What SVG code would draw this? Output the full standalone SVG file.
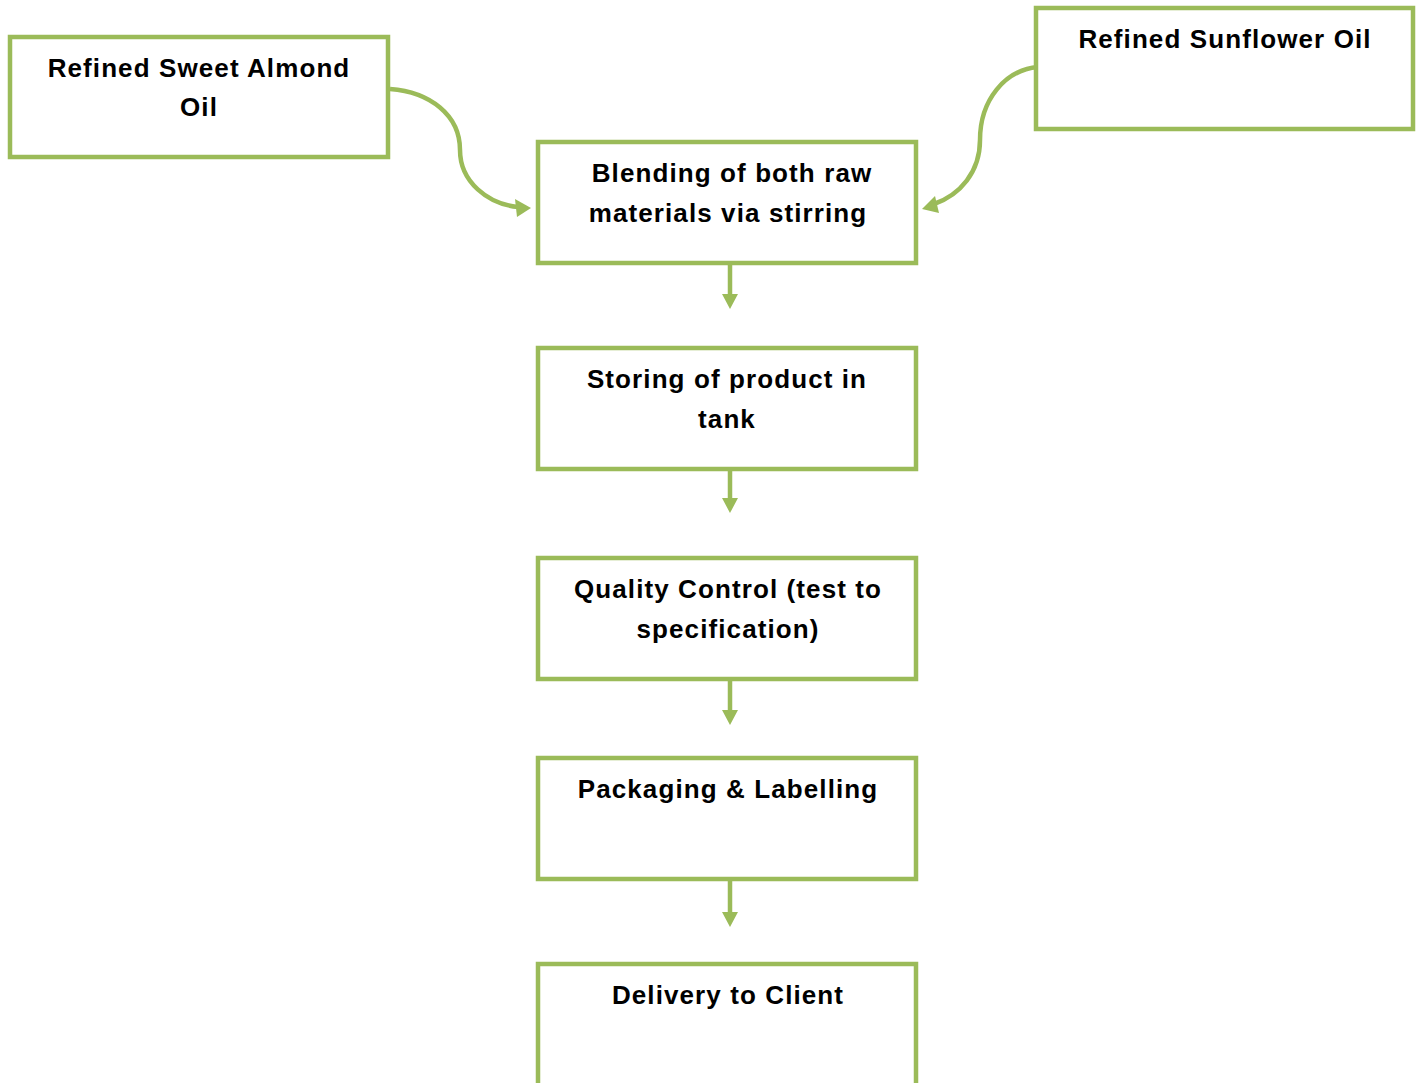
<svg xmlns="http://www.w3.org/2000/svg" width="1416" height="1083" viewBox="0 0 1416 1083">
<defs>
<style>
.box{fill:#fff;stroke:#9BBB59;stroke-width:4.5}
.t{font-family:"Liberation Sans",Arial,sans-serif;font-weight:bold;font-size:26px;letter-spacing:1.1px;fill:#000;text-anchor:middle}
.c{fill:none;stroke:#9BBB59;stroke-width:4.5}
.h{fill:#9BBB59}
</style>
</defs>
<rect width="1416" height="1083" fill="#fff"/>
<g id="connectors">
<path class="c" d="M390,89 C430,92 460,115 460,150 C460,182 488,204 518,207"/>
<polygon class="h" points="531,208 515,199 517,217"/>
<path class="c" d="M1038,67 C1005,70 980,100 980,140 C980,172 960,195 934,204"/>
<polygon class="h" points="922,209 935,196 939,213"/>
<line class="c" x1="730" y1="263" x2="730" y2="296"/>
<polygon class="h" points="722,294 738,294 730,309"/>
<line class="c" x1="730" y1="469" x2="730" y2="500"/>
<polygon class="h" points="722,498 738,498 730,513"/>
<line class="c" x1="730" y1="679" x2="730" y2="712"/>
<polygon class="h" points="722,710 738,710 730,725"/>
<line class="c" x1="730" y1="879" x2="730" y2="914"/>
<polygon class="h" points="722,912 738,912 730,927"/>
</g>
<g id="almond">
<rect class="box" x="10" y="37" width="378" height="120"/>
<text class="t" x="199" y="77">Refined Sweet Almond</text>
<text class="t" x="199" y="116">Oil</text>
</g>
<g id="sunflower">
<rect class="box" x="1036" y="8" width="377" height="121"/>
<text class="t" x="1225" y="48">Refined Sunflower Oil</text>
</g>
<g id="blending">
<rect class="box" x="538" y="142" width="378" height="121"/>
<text class="t" x="732" y="182">Blending of both raw</text>
<text class="t" x="728" y="222">materials via stirring</text>
</g>
<g id="storing">
<rect class="box" x="538" y="348" width="378" height="121"/>
<text class="t" x="727" y="388">Storing of product in</text>
<text class="t" x="727" y="428">tank</text>
</g>
<g id="qc">
<rect class="box" x="538" y="558" width="378" height="121"/>
<text class="t" x="728" y="598">Quality Control (test to</text>
<text class="t" x="728" y="638">specification)</text>
</g>
<g id="packaging">
<rect class="box" x="538" y="758" width="378" height="121"/>
<text class="t" x="728" y="798">Packaging &amp; Labelling</text>
</g>
<g id="delivery">
<rect class="box" x="538" y="964" width="378" height="125"/>
<text class="t" x="728" y="1004">Delivery to Client</text>
</g>
</svg>
